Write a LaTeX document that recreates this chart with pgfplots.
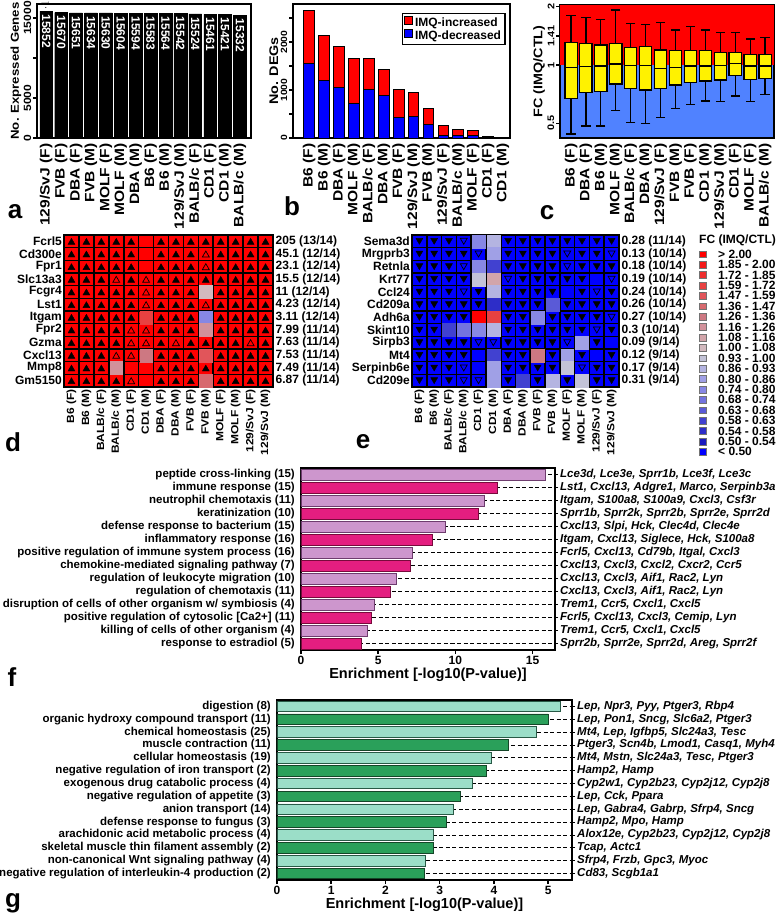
\documentclass[border=0pt]{standalone}
\usepackage{fontspec}
\setmainfont{Liberation Sans}
\usepackage{graphicx}
\usepackage{pgfplots}
\usepackage{pgfplotstable}
\pgfplotsset{compat=1.18}
\newcommand{\R}[1]{\scalebox{1.15}[1]{#1}}
\newcommand{\fs}[1]{\fontsize{#1}{#1}\selectfont}
\definecolor{fc0}{RGB}{255,0,0}
\definecolor{fc1}{RGB}{245,25,25}
\definecolor{fc2}{RGB}{238,45,45}
\definecolor{fc3}{RGB}{232,65,65}
\definecolor{fc4}{RGB}{225,85,90}
\definecolor{fc5}{RGB}{215,105,110}
\definecolor{fc6}{RGB}{205,120,130}
\definecolor{fc7}{RGB}{210,145,155}
\definecolor{fc8}{RGB}{210,165,170}
\definecolor{fc9}{RGB}{210,185,190}
\definecolor{fc10}{RGB}{195,195,215}
\definecolor{fc11}{RGB}{180,180,225}
\definecolor{fc12}{RGB}{160,160,230}
\definecolor{fc13}{RGB}{135,135,228}
\definecolor{fc14}{RGB}{115,115,222}
\definecolor{fc15}{RGB}{90,90,215}
\definecolor{fc16}{RGB}{65,65,208}
\definecolor{fc17}{RGB}{45,45,200}
\definecolor{fc18}{RGB}{25,25,190}
\definecolor{fc19}{RGB}{0,0,255}
\definecolor{fcblue}{RGB}{80,130,255}
\definecolor{flight}{RGB}{205,150,205}
\definecolor{flightdk}{RGB}{110,60,110}
\definecolor{fdark}{RGB}{228,30,128}
\definecolor{fdarkdk}{RGB}{120,10,60}
\definecolor{glight}{RGB}{155,222,200}
\definecolor{glightdk}{RGB}{40,90,70}
\definecolor{gdark}{RGB}{42,160,90}
\definecolor{gdarkdk}{RGB}{20,70,40}
% box plot statistics (log2 of fold change), panel c
\pgfplotstableread{
x lw lq med uq uw
0 -1.183 -0.577 -0.040 0.383 0.846
1 -1.046 -0.474 -0.029 0.371 0.817
2 -1.046 -0.457 -0.017 0.343 0.783
3 -0.783 -0.326 0.017 0.371 0.943
4 -0.989 -0.400 -0.006 0.303 0.714
5 -1.000 -0.429 -0.006 0.314 0.691
6 -0.897 -0.400 -0.057 0.257 0.726
7 -0.743 -0.343 -0.040 0.246 0.600
8 -0.674 -0.303 -0.017 0.246 0.657
9 -0.617 -0.274 -0.017 0.246 0.600
10 -0.629 -0.257 -0.006 0.217 0.560
11 -0.531 -0.183 0.029 0.217 0.560
12 -0.629 -0.246 -0.017 0.183 0.446
13 -0.503 -0.229 -0.017 0.183 0.474
}\bpdata
\pgfplotsset{
  /pgf/number format/assume math mode=true,
  fcclasses/.style={scatter/classes={
    k0={fill=fc0,draw=fc0},k1={fill=fc1,draw=fc1},k2={fill=fc2,draw=fc2},k3={fill=fc3,draw=fc3},
    k4={fill=fc4,draw=fc4},k5={fill=fc5,draw=fc5},k6={fill=fc6,draw=fc6},k7={fill=fc7,draw=fc7},
    k8={fill=fc8,draw=fc8},k9={fill=fc9,draw=fc9},k10={fill=fc10,draw=fc10},k11={fill=fc11,draw=fc11},
    k12={fill=fc12,draw=fc12},k13={fill=fc13,draw=fc13},k14={fill=fc14,draw=fc14},k15={fill=fc15,draw=fc15},
    k16={fill=fc16,draw=fc16},k17={fill=fc17,draw=fc17},k18={fill=fc18,draw=fc18},k19={fill=fc19,draw=fc19}}},
  legclasses/.style={scatter/classes={
    k0={fill=fc0,draw=black!55},k1={fill=fc1,draw=black!55},k2={fill=fc2,draw=black!55},k3={fill=fc3,draw=black!55},
    k4={fill=fc4,draw=black!55},k5={fill=fc5,draw=black!55},k6={fill=fc6,draw=black!55},k7={fill=fc7,draw=black!55},
    k8={fill=fc8,draw=black!55},k9={fill=fc9,draw=black!55},k10={fill=fc10,draw=black!55},k11={fill=fc11,draw=black!55},
    k12={fill=fc12,draw=black!55},k13={fill=fc13,draw=black!55},k14={fill=fc14,draw=black!55},k15={fill=fc15,draw=black!55},
    k16={fill=fc16,draw=black!55},k17={fill=fc17,draw=black!55},k18={fill=fc18,draw=black!55},k19={fill=fc19,draw=black!55}}},
  topaxis/.style={anchor=north west, scale only axis,
    axis line style={line width=2pt}, tick pos=left, tick align=outside, major tick length=4pt,
    xtick={0,...,13}, xtick style={draw=none}, ytick style={line width=1.5pt, black},
    xticklabel style={rotate=90, anchor=east, font=\bfseries\fs{13.5}, inner sep=1.5pt},
    yticklabel style={rotate=90, anchor=south, inner sep=1.5pt},
    ylabel style={font=\bfseries\fs{12.5}, inner sep=1pt}},
  hmaxis/.style={anchor=north west, scale only axis, xmin=0.5, xmax=14.5, ymin=0.5, ymax=12.5, y dir=reverse,
    axis on top, axis line style={line width=2.4pt, black},
    xtick={1,...,14}, ytick={1,...,12},
    minor xtick={1.5,2.5,...,13.5}, minor ytick={1.5,2.5,...,11.5},
    xminorgrids, yminorgrids, minor grid style={black, line width=1.6pt},
    major tick length=0pt, minor tick length=0pt,
    xticklabels={\R{B6 (F)},\R{B6 (M)},\R{BALB/c (F)},\R{BALB/c (M)},\R{CD1 (F)},\R{CD1 (M)},\R{DBA (F)},\R{DBA (M)},\R{FVB (F)},\R{FVB (M)},\R{MOLF (F)},\R{MOLF (M)},\R{129/SvJ (F)},\R{129/SvJ (M)}},
    xticklabel style={rotate=90, anchor=east, font=\bfseries\fs{10.4}, inner sep=2pt},
    yticklabel style={font=\bfseries\fs{12}, inner sep=2pt}},
  hmright/.style={anchor=north west, scale only axis, xmin=0.5, xmax=14.5, ymin=0.5, ymax=12.5, y dir=reverse,
    hide x axis, axis y line*=right, y axis line style={draw=none}, ytick={1,...,12}, major tick length=0pt,
    yticklabel style={anchor=west, font=\bfseries\fs{12}, inner sep=2.5pt}},
  enraxis/.style={anchor=north west, scale only axis, ymin=0.5, ymax=14.5, y dir=reverse,
    axis line style={line width=2pt}, tick pos=left, tick align=outside, major tick length=4pt,
    xtick style={black, line width=1.5pt}, ytick={1,...,14}, ytick style={draw=none},
    yticklabel style={font=\bfseries\fs{11.5}, inner sep=2pt},
    xticklabel style={font=\bfseries\fs{12}, inner sep=2pt},
    xlabel={Enrichment [-log10(P-value)]}, xlabel style={font=\bfseries\fs{14.5}, inner sep=1pt}},
  enrright/.style={anchor=north west, scale only axis, ymin=0.5, ymax=14.5, y dir=reverse,
    hide x axis, axis y line*=right, y axis line style={draw=none}, ytick={1,...,14},
    tick align=outside, major tick length=3pt, ytick style={black, line width=0.9pt},
    yticklabel style={anchor=west, font=\bfseries\itshape\fs{11.5}, inner sep=2pt}},
}
\begin{document}
\begin{tikzpicture}[font=\bfseries]
\useasboundingbox (0,0) rectangle (778pt,-922pt);

% ---------------- panel a
\begin{axis}[topaxis, at={(37pt,-4pt)}, width=214pt, height=134pt,
  xmin=-0.62, xmax=13.74, ymin=0, ymax=16750,
  xticklabels={\R{129/SvJ (F)},\R{FVB (F)},\R{DBA (F)},\R{FVB (M)},\R{MOLF (F)},\R{MOLF (M)},\R{DBA (M)},\R{B6 (F)},\R{B6 (M)},\R{129/SvJ (M)},\R{BALB/c (F)},\R{CD1 (F)},\R{CD1 (M)},\R{BALB/c (M)}},
  ytick={0,5000,10000,15000}, yticklabels={\R{0},\R{5000},,\R{15000}},
  yticklabel style={font=\bfseries\fs{10.5}},
  ylabel={\R{No. Expressed Genes}}, ylabel style={font=\bfseries\fs{11.5}}]
\addplot[ybar, bar width=0.86, fill=black, draw=black] coordinates {(0,15852) (1,15670) (2,15651) (3,15634) (4,15630) (5,15604) (6,15594) (7,15583) (8,15564) (9,15542) (10,15524) (11,15461) (12,15421) (13,15332)};
\addplot[scatter, only marks, mark=*, mark size=0pt, mark options={draw=none, fill=none}, point meta=explicit symbolic,
  scatter/@pre marker code/.code={\node[rotate=-90, anchor=center, text=white, font=\bfseries\fs{12}, inner sep=0pt] at (0pt,-20pt) {\pgfplotspointmeta};},
  scatter/@post marker code/.code={}]
  coordinates {(0,15852)[15852] (1,15670)[15670] (2,15651)[15651] (3,15634)[15634]
  (4,15630)[15630] (5,15604)[15604] (6,15594)[15594] (7,15583)[15583]
  (8,15564)[15564] (9,15542)[15542] (10,15524)[15524] (11,15461)[15461]
  (12,15421)[15421] (13,15332)[15332]};
\end{axis}

% ---------------- panel b
\begin{axis}[topaxis, at={(293pt,-4pt)}, width=217pt, height=134pt,
  xmin=-1.09, xmax=13.47, ymin=0, ymax=2792, ybar stacked, bar width=0.72,
  xticklabels={\R{B6 (F)},\R{B6 (M)},\R{DBA (F)},\R{MOLF (M)},\R{BALB/c (F)},\R{DBA (M)},\R{FVB (F)},\R{129/SvJ (M)},\R{FVB (M)},\R{129/SvJ (F)},\R{BALB/c (M)},\R{MOLF (F)},\R{CD1 (F)},\R{CD1 (M)}},
  ytick={0,500,1000,1500,2000,2500}, yticklabels={\R{0},,\R{1000},,\R{2000},},
  yticklabel style={font=\bfseries\fs{9}},
  ylabel={\R{No. DEGs}},
  reverse legend,
  legend style={at={(0.98,0.935)}, anchor=north east, draw=black, line width=1.2pt, font=\bfseries\fs{12}, inner sep=2pt, row sep=-1pt},
  legend cell align=left,
  legend image code/.code={\draw[#1, line width=0.8pt] (0pt,-2pt) rectangle (8pt,6pt);}]
\addplot[fill=blue, draw=black, line width=1pt] coordinates {(0,1542) (1,1194) (2,1049) (3,722) (4,1014) (5,896) (6,431) (7,444) (8,271) (9,42) (10,62) (11,42) (12,10) (13,8)};
\addplot[fill=red, draw=black, line width=1pt] coordinates {(0,1125) (1,945) (2,854) (3,938) (4,646) (5,521) (6,583) (7,500) (8,347) (9,215) (10,105) (11,104) (12,18) (13,12)};
\legend{IMQ-decreased,IMQ-increased}
\end{axis}

% ---------------- panel c (background, whiskers, caps, frame)
\begin{axis}[topaxis, at={(560pt,-5pt)}, width=214pt, height=133pt,
  xmin=-0.74, xmax=13.6, ymin=-1.252, ymax=1.029,
  axis background/.style={fill=fcblue},
  xticklabels={\R{B6 (F)},\R{DBA (F)},\R{B6 (M)},\R{MOLF (M)},\R{BALB/c (F)},\R{DBA (M)},\R{129/SvJ (F)},\R{FVB (M)},\R{FVB (F)},\R{CD1 (M)},\R{129/SvJ (M)},\R{CD1 (F)},\R{MOLF (F)},\R{BALB/c (M)}},
  ytick={-1,0,0.5,1}, yticklabels={\R{0.5},\R{1},\R{1.41},\R{2}},
  yticklabel style={font=\bfseries\fs{9.5}},
  ylabel={\R{FC (IMQ/CTL)}}]
\addplot[fill=red, draw=none] coordinates {(-0.74,0) (13.6,0) (13.6,1.029) (-0.74,1.029)} --cycle;
\addplot[draw=none, error bars/.cd, y dir=both, y explicit, error mark=none,
  error bar style={draw=black, line width=1.2pt}]
  table[x=x, y=med, y error plus expr=\thisrow{uw}-\thisrow{med}, y error minus expr=\thisrow{med}-\thisrow{lw}] {\bpdata};
\addplot[only marks, mark=-, mark size=4.6pt, black, line width=1.2pt] table[x=x, y=uw] {\bpdata};
\addplot[only marks, mark=-, mark size=4.6pt, black, line width=1.2pt] table[x=x, y=lw] {\bpdata};
\end{axis}
% panel c (boxes, overlay; y shifted by +2 so that the stack is all positive)
\begin{axis}[anchor=north west, scale only axis, at={(560pt,-5pt)}, width=214pt, height=133pt,
  xmin=-0.74, xmax=13.6, ymin=0.748, ymax=3.029, hide axis, ybar stacked, bar width=0.82]
\addplot[draw=none, fill=none] table[x=x, y expr=\thisrow{lq}+2] {\bpdata};
\addplot[fill=yellow, draw=black, line width=1.2pt] table[x=x, y expr=\thisrow{med}-\thisrow{lq}] {\bpdata};
\addplot[fill=yellow, draw=black, line width=1.2pt] table[x=x, y expr=\thisrow{uq}-\thisrow{med}] {\bpdata};
\end{axis}

% ---------------- panel d
\begin{axis}[hmaxis, at={(64pt,-235pt)}, width=209pt, height=152pt,
  axis background/.style={fill=red},
  yticklabels={Fcrl5,Cd300e,Fpr1,Slc13a3,Fcgr4,Lst1,Itgam,Fpr2,Gzma,Cxcl13,Mmp8,Gm5150}]
\addplot[scatter, only marks, mark=square*, mark size=6.4pt, point meta=explicit symbolic, fcclasses]
  coordinates {(10,5)[k9] (6,7)[k3] (10,7)[k13] (10,8)[k7] (6,10)[k6] (10,10)[k4] (4,11)[k7] (10,12)[k5]};
\addplot[only marks, mark=triangle*, mark size=4pt, black, mark options={yshift=-1pt}] coordinates {
 (1,1)(2,1)(3,1)(4,1)(5,1)(7,1)(8,1)(9,1)(10,1)(11,1)(12,1)(13,1)(14,1)
 (1,2)(2,2)(3,2)(4,2)(5,2)(7,2)(8,2)(9,2)(11,2)(12,2)(13,2)(14,2)
 (1,3)(2,3)(3,3)(4,3)(5,3)(7,3)(8,3)(9,3)(11,3)(12,3)(13,3)(14,3)
 (1,4)(2,4)(3,4)(5,4)(7,4)(8,4)(9,4)(10,4)(11,4)(12,4)(13,4)(14,4)
 (1,5)(2,5)(3,5)(4,5)(5,5)(7,5)(8,5)(9,5)(11,5)(12,5)(13,5)(14,5)
 (1,6)(2,6)(3,6)(4,6)(5,6)(7,6)(8,6)(9,6)(11,6)(12,6)(13,6)(14,6)
 (1,7)(2,7)(3,7)(4,7)(5,7)(7,7)(8,7)(9,7)(11,7)(12,7)(13,7)(14,7)
 (1,8)(2,8)(3,8)(4,8)(7,8)(8,8)(9,8)(11,8)(12,8)(13,8)(14,8)
 (1,9)(2,9)(3,9)(4,9)(7,9)(9,9)(10,9)(11,9)(12,9)(14,9)
 (1,10)(2,10)(3,10)(7,10)(8,10)(9,10)(11,10)(12,10)(13,10)(14,10)
 (1,11)(2,11)(3,11)(7,11)(8,11)(9,11)(10,11)(11,11)(12,11)(13,11)(14,11)
 (1,12)(2,12)(3,12)(4,12)(7,12)(8,12)(9,12)(11,12)(12,12)(13,12)(14,12)};
\addplot[only marks, mark=triangle, mark size=4pt, black, line width=0.7pt, mark options={yshift=-1pt}] coordinates {
 (10,2)(10,3)(4,4)(6,4)(6,5)(6,6)(10,6)(5,8)(6,8)(5,9)(6,9)(8,9)(13,9)(4,10)(5,10)(5,12)};
\end{axis}
\begin{axis}[hmright, at={(64pt,-235pt)}, width=209pt, height=152pt,
  yticklabels={205 (13/14),45.1 (12/14),23.1 (12/14),15.5 (12/14),11 (12/14),4.23 (12/14),3.11 (12/14),7.99 (11/14),7.63 (11/14),7.53 (11/14),7.49 (11/14),6.87 (11/14)}]
\addplot[draw=none] coordinates {(1,1)};
\end{axis}

% ---------------- panel e
\begin{axis}[hmaxis, at={(412pt,-235pt)}, width=207pt, height=152pt,
  axis background/.style={fill=blue},
  yticklabels={Sema3d,Mrgprb3,Retnla,Krt77,Ccl24,Cd209a,Adh6a,Skint10,Sirpb3,Mt4,Serpinb6e,Cd209e}]
\addplot[scatter, only marks, mark=square*, mark size=6.4pt, point meta=explicit symbolic, fcclasses]
  coordinates {(5,1)[k13] (6,1)[k11] (6,2)[k12] (5,3)[k13] (6,3)[k16] (5,4)[k10] (6,4)[k8] (6,5)[k11]
  (6,6)[k17] (10,6)[k15] (5,7)[k0] (6,7)[k3] (9,7)[k13] (3,8)[k16] (4,8)[k14] (5,8)[k13] (6,8)[k11]
  (12,9)[k12] (6,10)[k16] (9,10)[k6] (11,10)[k12] (6,11)[k12] (11,11)[k10] (6,12)[k12] (8,12)[k16]
  (10,12)[k11] (12,12)[k10]};
\addplot[only marks, mark=triangle*, mark size=4pt, black, mark options={rotate=180, yshift=-1pt}] coordinates {
 (1,1)(2,1)(3,1)(7,1)(8,1)(9,1)(10,1)(11,1)(12,1)(13,1)(14,1)
 (1,2)(2,2)(3,2)(4,2)(7,2)(8,2)(9,2)(10,2)(12,2)(13,2)
 (1,3)(2,3)(3,3)(7,3)(8,3)(9,3)(10,3)(12,3)(13,3)(14,3)
 (1,4)(2,4)(3,4)(4,4)(8,4)(9,4)(10,4)(11,4)(12,4)
 (1,5)(2,5)(3,5)(5,5)(7,5)(8,5)(9,5)(10,5)(12,5)(14,5)
 (1,6)(2,6)(3,6)(4,6)(5,6)(7,6)(8,6)(9,6)(11,6)(12,6)(13,6)(14,6)
 (1,7)(2,7)(3,7)(4,7)(7,7)(8,7)(10,7)(11,7)(12,7)(13,7)
 (1,8)(2,8)(7,8)(8,8)(9,8)(10,8)(11,8)(12,8)(14,8)
 (1,9)(2,9)(3,9)(4,9)(7,9)(8,9)(9,9)(10,9)(13,9)
 (1,10)(2,10)(3,10)(4,10)(7,10)(8,10)(10,10)(12,10)(14,10)
 (1,11)(2,11)(3,11)(7,11)(8,11)(9,11)(10,11)(13,11)(14,11)
 (1,12)(2,12)(3,12)(7,12)(9,12)(11,12)(13,12)(14,12)};
\addplot[only marks, mark=triangle, mark size=4pt, black, line width=0.7pt, mark options={rotate=180, yshift=-1pt}] coordinates {
 (4,1)(5,2)(11,2)(14,2)(4,3)(11,3)(7,4)(14,4)(4,5)(13,5)(14,7)(13,8)(5,9)(6,9)(11,9)(4,11)(12,11)(4,12)(5,12)};
\end{axis}
\begin{axis}[hmright, at={(412pt,-235pt)}, width=207pt, height=152pt,
  yticklabels={0.28 (11/14),0.13 (10/14),0.18 (10/14),0.19 (10/14),0.24 (10/14),0.26 (10/14),0.27 (10/14),0.3 (10/14),0.09 (9/14),0.12 (9/14),0.17 (9/14),0.31 (9/14)}]
\addplot[draw=none] coordinates {(1,1)};
\end{axis}

% ---------------- FC colour key
\node[anchor=west, font=\bfseries\fs{12}, inner sep=0pt] at (699pt,-240pt) {FC (IMQ/CTL)};
\begin{axis}[at={(699.5pt,-249pt)}, anchor=north west, scale only axis, width=7pt, height=208pt,
  xmin=-0.5, xmax=0.5, ymin=0.5, ymax=20.5, y dir=reverse, clip=false,
  hide x axis, axis y line*=right, y axis line style={draw=none}, ytick={1,...,20}, major tick length=0pt,
  yticklabel style={anchor=west, font=\bfseries\fs{12}, inner sep=0pt, xshift=11.5pt},
  yticklabels={> 2.00,1.85 - 2.00,1.72 - 1.85,1.59 - 1.72,1.47 - 1.59,1.36 - 1.47,1.26 - 1.36,1.16 - 1.26,1.08 - 1.16,1.00 - 1.08,0.93 - 1.00,0.86 - 0.93,0.80 - 0.86,0.74 - 0.80,0.68 - 0.74,0.63 - 0.68,0.58 - 0.63,0.54 - 0.58,0.50 - 0.54,< 0.50}]
\addplot[scatter, only marks, mark=square*, mark size=3.4pt, line width=0.6pt, point meta=explicit symbolic, legclasses]
  coordinates {(0,1)[k0] (0,2)[k1] (0,3)[k2] (0,4)[k3] (0,5)[k4] (0,6)[k5] (0,7)[k6] (0,8)[k7] (0,9)[k8] (0,10)[k9]
  (0,11)[k10] (0,12)[k11] (0,13)[k12] (0,14)[k13] (0,15)[k14] (0,16)[k15] (0,17)[k16] (0,18)[k17] (0,19)[k18] (0,20)[k19]};
\end{axis}

% ---------------- panel f
\begin{axis}[enraxis, at={(301pt,-468pt)}, width=254pt, height=182pt,
  xmin=0, xmax=16.45, xtick={0,5,10,15},
  yticklabels={{peptide cross-linking (15)},{immune response (15)},{neutrophil chemotaxis (11)},{keratinization (10)},{defense response to bacterium (15)},{inflammatory response (16)},{positive regulation of immune system process (16)},{chemokine-mediated signaling pathway (7)},{regulation of leukocyte migration (10)},{regulation of chemotaxis (11)},{disruption of cells of other organism w/ symbiosis (4)},{positive regulation of cytosolic [Ca2+] (11)},{killing of cells of other organism (4)},{response to estradiol (5)}}]
\addplot[xcomb, black, line width=0.9pt, dash pattern=on 4pt off 2.5pt] coordinates {(16.45,1) (16.45,2) (16.45,3) (16.45,4) (16.45,5) (16.45,6) (16.45,7) (16.45,8) (16.45,9) (16.45,10) (16.45,11) (16.45,12) (16.45,13) (16.45,14)};
\addplot[xbar, bar shift=0pt, bar width=10.8pt, fill=flight, draw=flightdk, line width=0.8pt] coordinates {(15.84,1) (11.9,3) (9.35,5) (7.2,7) (6.15,9) (4.74,11) (4.28,13)};
\addplot[xbar, bar shift=0pt, bar width=10.8pt, fill=fdark, draw=fdarkdk, line width=0.8pt] coordinates {(12.7,2) (11.5,4) (8.5,6) (7.08,8) (5.78,10) (4.55,12) (3.88,14)};
\end{axis}
\begin{axis}[enrright, at={(301pt,-468pt)}, width=254pt, height=182pt, xmin=0, xmax=16.45,
  yticklabels={{Lce3d, Lce3e, Sprr1b, Lce3f, Lce3c},{Lst1, Cxcl13, Adgre1, Marco, Serpinb3a},{Itgam, S100a8, S100a9, Cxcl3, Csf3r},{Sprr1b, Sprr2k, Sprr2b, Sprr2e, Sprr2d},{Cxcl13, Slpi, Hck, Clec4d, Clec4e},{Itgam, Cxcl13, Siglece, Hck, S100a8},{Fcrl5, Cxcl13, Cd79b, Itgal, Cxcl3},{Cxcl13, Cxcl3, Cxcl2, Cxcr2, Ccr5},{Cxcl13, Cxcl3, Aif1, Rac2, Lyn},{Cxcl13, Cxcl3, Aif1, Rac2, Lyn},{Trem1, Ccr5, Cxcl1, Cxcl5},{Fcrl5, Cxcl13, Cxcl3, Cemip, Lyn},{Trem1, Ccr5, Cxcl1, Cxcl5},{Sprr2b, Sprr2e, Sprr2d, Areg, Sprr2f}}]
\addplot[draw=none] coordinates {(1,1)};
\end{axis}

% ---------------- panel g
\begin{axis}[enraxis, at={(277pt,-700pt)}, width=295pt, height=180pt,
  xmin=0, xmax=5.44, xtick={0,1,2,3,4,5},
  yticklabels={{digestion (8)},{organic hydroxy compound transport (11)},{chemical homeostasis (25)},{muscle contraction (11)},{cellular homeostasis (19)},{negative regulation of iron transport (2)},{exogenous drug catabolic process (4)},{negative regulation of appetite (3)},{anion transport (14)},{defense response to fungus (3)},{arachidonic acid metabolic process (4)},{skeletal muscle thin filament assembly (2)},{non-canonical Wnt signaling pathway (4)},{negative regulation of interleukin-4 production (2)}}]
\addplot[xcomb, black, line width=0.9pt, dash pattern=on 4pt off 2.5pt] coordinates {(5.44,1) (5.44,2) (5.44,3) (5.44,4) (5.44,5) (5.44,6) (5.44,7) (5.44,8) (5.44,9) (5.44,10) (5.44,11) (5.44,12) (5.44,13) (5.44,14)};
\addplot[xbar, bar shift=0pt, bar width=10.6pt, fill=glight, draw=glightdk, line width=0.8pt] coordinates {(5.22,1) (4.78,3) (3.96,5) (3.6,7) (3.25,9) (2.89,11) (2.73,13)};
\addplot[xbar, bar shift=0pt, bar width=10.6pt, fill=gdark, draw=gdarkdk, line width=0.8pt] coordinates {(5.0,2) (4.27,4) (3.87,6) (3.39,8) (3.12,10) (2.88,12) (2.71,14)};
\end{axis}
\begin{axis}[enrright, at={(277pt,-700pt)}, width=295pt, height=180pt, xmin=0, xmax=5.44,
  yticklabels={{Lep, Npr3, Pyy, Ptger3, Rbp4},{Lep, Pon1, Sncg, Slc6a2, Ptger3},{Mt4, Lep, Igfbp5, Slc24a3, Tesc},{Ptger3, Scn4b, Lmod1, Casq1, Myh4},{Mt4, Mstn, Slc24a3, Tesc, Ptger3},{Hamp2, Hamp},{Cyp2w1, Cyp2b23, Cyp2j12, Cyp2j8},{Lep, Cck, Ppara},{Lep, Gabra4, Gabrp, Sfrp4, Sncg},{Hamp2, Mpo, Hamp},{Alox12e, Cyp2b23, Cyp2j12, Cyp2j8},{Tcap, Actc1},{Sfrp4, Frzb, Gpc3, Myoc},{Cd83, Scgb1a1}}]
\addplot[draw=none] coordinates {(1,1)};
\end{axis}

% ---------------- panel letters
\node[font=\bfseries\fs{26}] at (15pt,-212pt) {a};
\node[font=\bfseries\fs{26}] at (292pt,-206pt) {b};
\node[font=\bfseries\fs{26}] at (547pt,-213pt) {c};
\node[font=\bfseries\fs{26}] at (13pt,-442pt) {d};
\node[font=\bfseries\fs{26}] at (363pt,-442pt) {e};
\node[font=\bfseries\fs{26}] at (12pt,-677pt) {f};
\node[font=\bfseries\fs{26}] at (13pt,-903pt) {g};
\end{tikzpicture}
\end{document}
